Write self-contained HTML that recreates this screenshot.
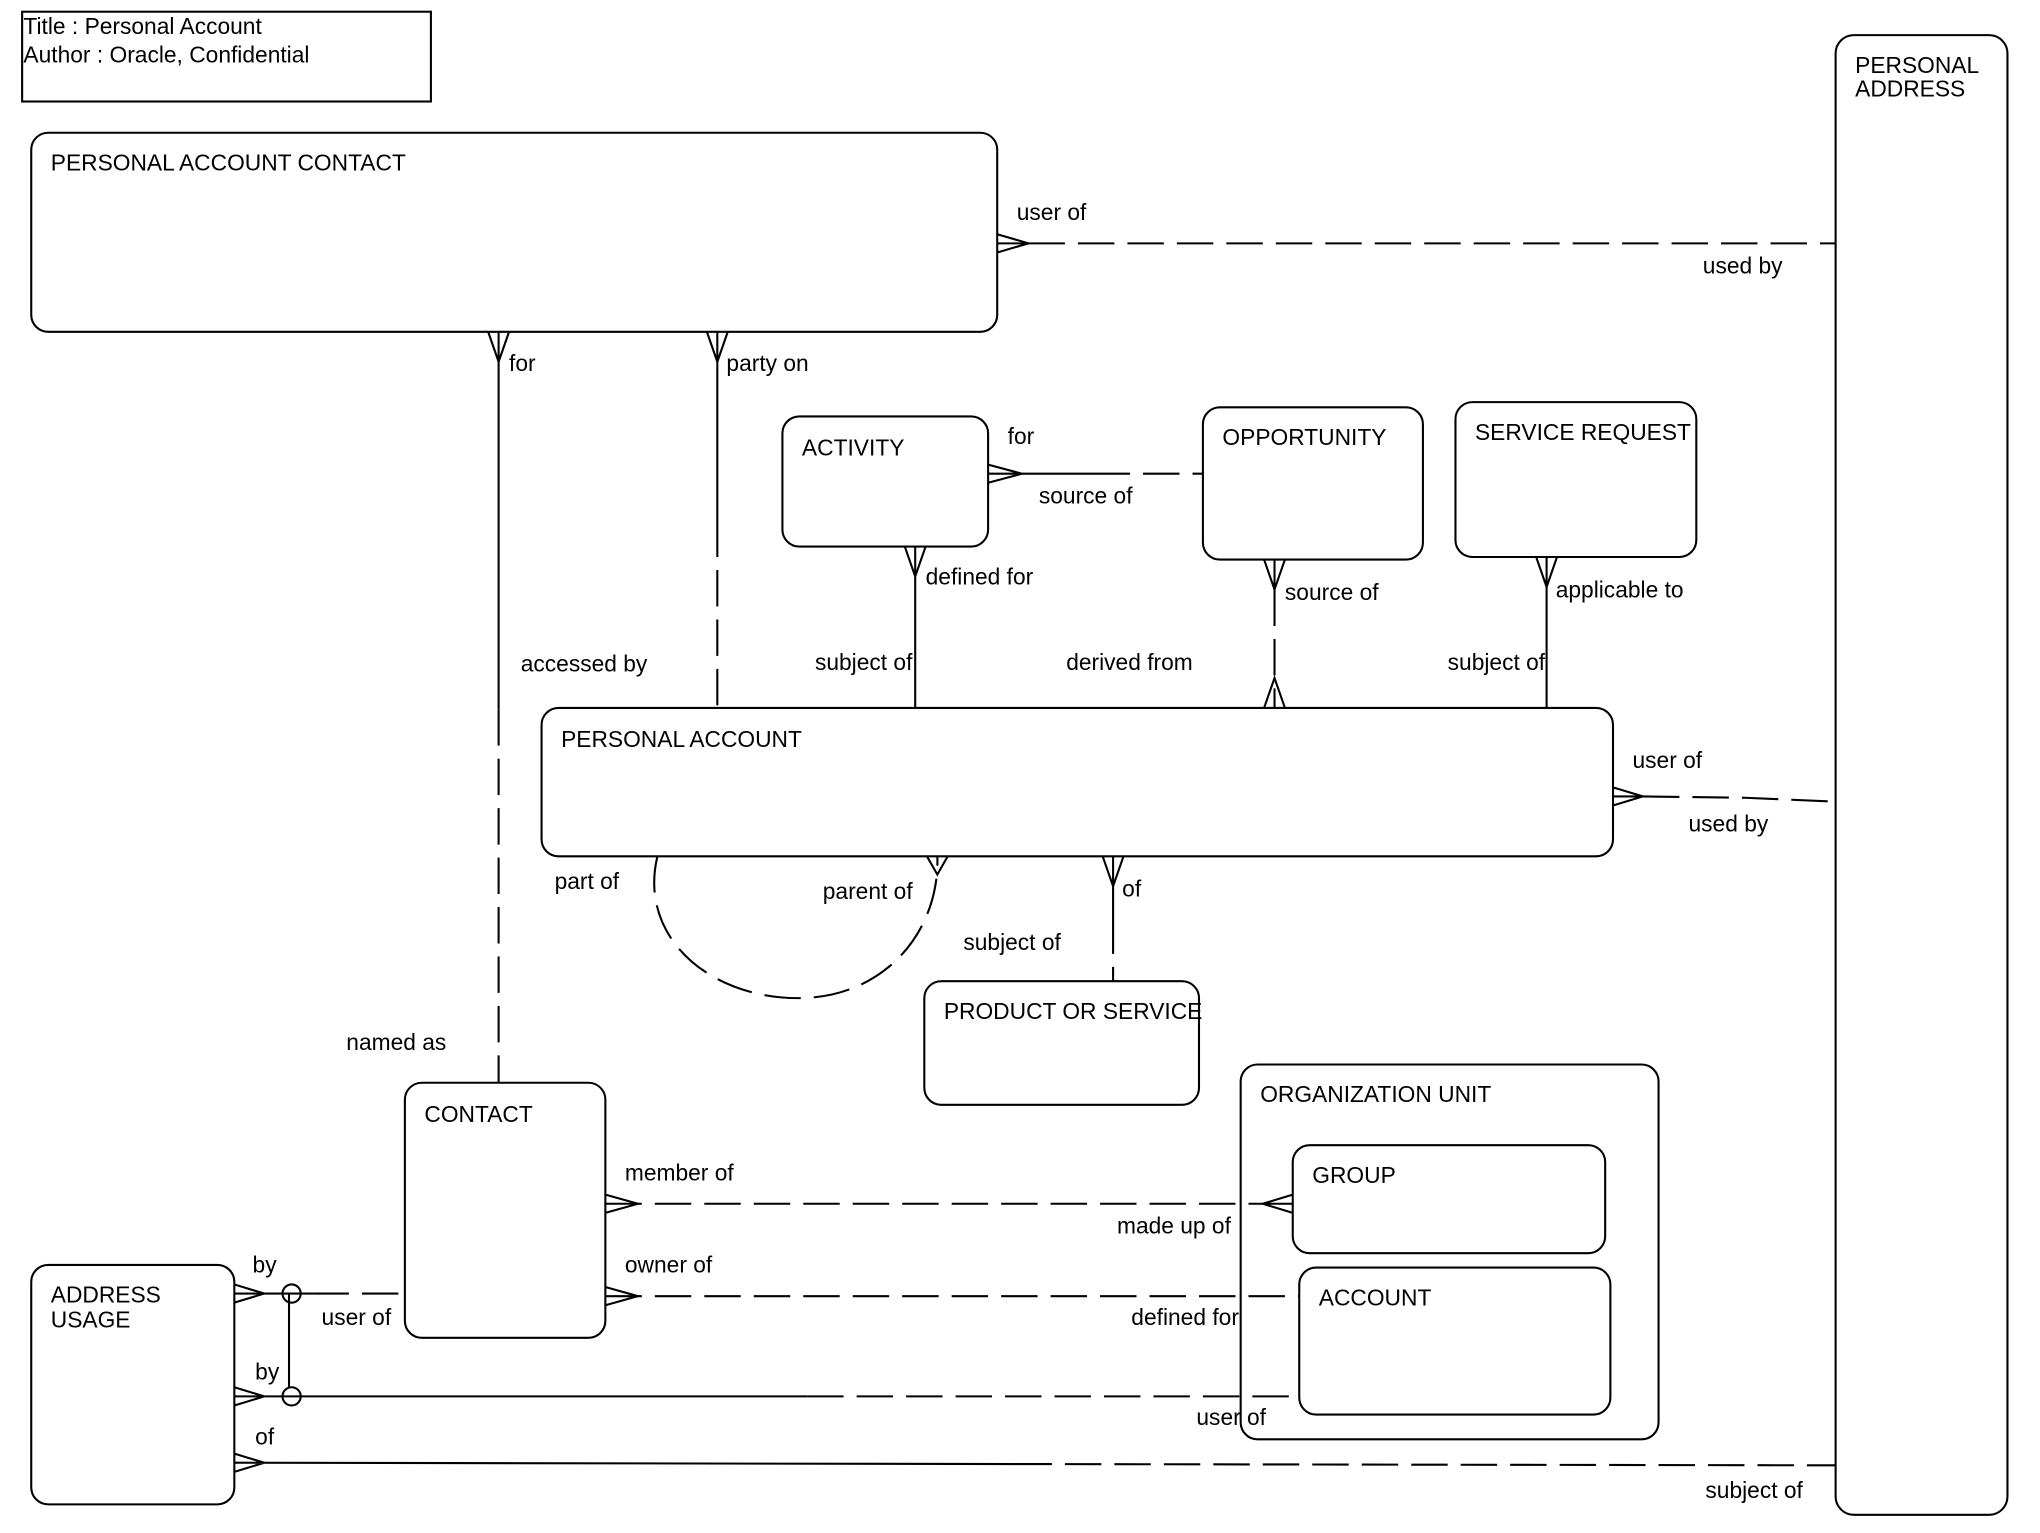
<!DOCTYPE html>
<html><head><meta charset="utf-8">
<style>
html,body{margin:0;padding:0;background:#fff;}
svg{display:block;}
text{font-family:"Liberation Sans",Arial,sans-serif;font-size:17.5px;fill:#000;}
</style></head>
<body>
<svg width="2040" height="1533" viewBox="0 0 1567 1178" preserveAspectRatio="none" xmlns="http://www.w3.org/2000/svg">
<g fill="none" stroke="#000" stroke-width="1.6">
<rect x="17" y="9" width="314" height="69"/>
<rect x="1410" y="27" width="132" height="1137" rx="14"/>
<rect x="24" y="102" width="742" height="153" rx="13"/>
<rect x="601" y="320" width="158" height="100" rx="13"/>
<rect x="924" y="313" width="169" height="117" rx="13"/>
<rect x="1118" y="309" width="185" height="119" rx="13"/>
<rect x="416" y="544" width="823" height="114" rx="13"/>
<rect x="710" y="754" width="211" height="95" rx="13"/>
<rect x="311" y="832" width="154" height="196" rx="13"/>
<rect x="953" y="818" width="321" height="288" rx="13"/>
<rect x="993" y="880" width="240" height="83" rx="13"/>
<rect x="998" y="974" width="239" height="113" rx="13"/>
<rect x="24" y="972" width="156" height="184" rx="13"/>
</g>
<g fill="none" stroke="#000" stroke-width="1.6">
<path d="M766,180 L790,187 L766,194 M766,187 L790,187"/>
<path d="M790,187 L1410,187" stroke-dasharray="28,10"/>
<path d="M375,255 L383,278 L391,255 M383,255 L383,545"/>
<path d="M383,545 L383,832" stroke-dasharray="28,10"/>
<path d="M543,255 L551,278 L559,255 M551,255 L551,400"/>
<path d="M551,400 L551,544" stroke-dasharray="28,10"/>
<path d="M759,357 L785,364 L759,371 M759,364 L840,364"/>
<path d="M840,364 L924,364" stroke-dasharray="28,10"/>
<path d="M695,420 L703,443 L711,420 M703,420 L703,544"/>
<path d="M971,430 L979,453 L987,430 M979,430 L979,453"/>
<path d="M979,453 L979,544" stroke-dasharray="28,10"/>
<path d="M971,544 L979,521 L987,544"/>
<path d="M1180,428 L1188,451 L1196,428 M1188,428 L1188,544"/>
<path d="M1239,605 L1262,612 L1239,619 M1239,612 L1262,612"/>
<path d="M1262,612 L1340,613 L1410,616" stroke-dasharray="28,10"/>
<path d="M505,658 C490,720 545,767 613,767 C680,767 722,715 720,658" stroke-dasharray="28,10"/>
<path d="M712,658 L720,672 L728,658"/>
<path d="M847,658 L855,681 L863,658 M855,658 L855,705"/>
<path d="M855,705 L855,754" stroke-dasharray="28,10"/>
<path d="M465,918 L490,925 L465,932"/>
<path d="M465,925 L970,925" stroke-dasharray="28,10"/>
<path d="M993,918 L970,925 L993,932 M970,925 L993,925"/>
<path d="M465,989 L490,996 L465,1003"/>
<path d="M465,996 L998,996" stroke-dasharray="28,10"/>
<path d="M180,987 L203,994 L180,1001 M180,994 L240,994"/>
<path d="M240,994 L311,994" stroke-dasharray="28,10"/>
<circle cx="224" cy="994" r="7"/>
<path d="M180,1066 L203,1073 L180,1080 M180,1073 L620,1073"/>
<path d="M620,1073 L998,1073" stroke-dasharray="28,10"/>
<circle cx="224" cy="1073" r="7"/>
<path d="M222,994 L222,1066"/>
<path d="M180,1117 L203,1124 L180,1131 M180,1124 L780,1125"/>
<path d="M780,1125 L1410,1126" stroke-dasharray="28,10"/>
</g>
<g>
<text x="18" y="26">Title : Personal Account</text>
<text x="18" y="48">Author : Oracle, Confidential</text>
<text x="1425" y="56">PERSONAL</text>
<text x="1425" y="74">ADDRESS</text>
<text x="39" y="131">PERSONAL ACCOUNT CONTACT</text>
<text x="616" y="350">ACTIVITY</text>
<text x="939" y="342">OPPORTUNITY</text>
<text x="1133" y="338">SERVICE REQUEST</text>
<text x="431" y="574">PERSONAL ACCOUNT</text>
<text x="725" y="783">PRODUCT OR SERVICE</text>
<text x="326" y="862">CONTACT</text>
<text x="968" y="847">ORGANIZATION UNIT</text>
<text x="1008" y="909">GROUP</text>
<text x="1013" y="1003">ACCOUNT</text>
<text x="39" y="1001">ADDRESS</text>
<text x="39" y="1020">USAGE</text>
<text x="781" y="169">user of</text>
<text x="1308" y="210">used by</text>
<text x="391" y="285">for</text>
<text x="558" y="285">party on</text>
<text x="400" y="516">accessed by</text>
<text x="774" y="341">for</text>
<text x="798" y="387">source of</text>
<text x="711" y="449">defined for</text>
<text x="626" y="515">subject of</text>
<text x="987" y="461">source of</text>
<text x="819" y="515">derived from</text>
<text x="1195" y="459">applicable to</text>
<text x="1112" y="515">subject of</text>
<text x="1254" y="590">user of</text>
<text x="1297" y="639">used by</text>
<text x="426" y="683">part of</text>
<text x="632" y="691">parent of</text>
<text x="862" y="689">of</text>
<text x="740" y="730">subject of</text>
<text x="266" y="807">named as</text>
<text x="480" y="907">member of</text>
<text x="858" y="948">made up of</text>
<text x="480" y="978">owner of</text>
<text x="869" y="1018">defined for</text>
<text x="194" y="978">by</text>
<text x="247" y="1018">user  of</text>
<text x="196" y="1060">by</text>
<text x="919" y="1095">user of</text>
<text x="196" y="1110">of</text>
<text x="1310" y="1151">subject of</text>
</g>
</svg>
</body></html>
